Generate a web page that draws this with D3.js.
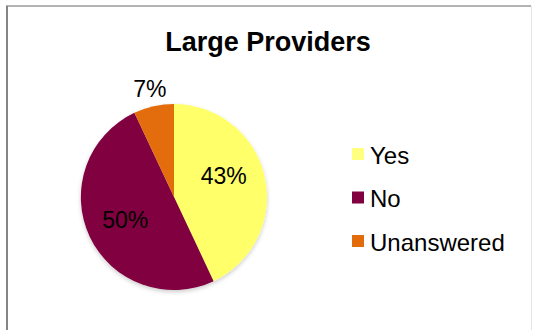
<!DOCTYPE html>
<html>
<head>
<meta charset="utf-8">
<script src="https://cdn.jsdelivr.net/npm/d3@7"></script>
<style>
  html, body { margin: 0; padding: 0; background: #fff; }
  svg { display: block; }
  text { font-family: "Liberation Sans", Arial, sans-serif; fill: #000; }
</style>
</head>
<body>
<svg id="chart" width="533" height="330"></svg>
<script>
// Survey answers for large providers
const categories = ["Yes", "No", "Unanswered"];
const values = [43, 50, 7];
const colors = ["#FFFF6A", "#800040", "#E36C0A"];
const legendColors = ["#FFFF80", "#800040", "#E36C0A"];
const chartTitle = "Large Providers";

const W = 533, H = 330;
const svg = d3.select("#chart");

// frame
svg.append("line").attr("x1", 6).attr("y1", 6).attr("x2", 531).attr("y2", 6)
  .attr("stroke", "#9a9a9a").attr("stroke-width", 1.5);
svg.append("line").attr("x1", 7).attr("y1", 6).attr("x2", 7).attr("y2", H)
  .attr("stroke", "#858585").attr("stroke-width", 2);
svg.append("line").attr("x1", 531.5).attr("y1", 6).attr("x2", 531.5).attr("y2", H)
  .attr("stroke", "#e4e4e4").attr("stroke-width", 1);

// title
svg.append("text")
  .attr("x", 268).attr("y", 51)
  .attr("text-anchor", "middle")
  .style("font-size", "27px").style("font-weight", "bold")
  .text(chartTitle);

// pie
const cx = 174, cy = 197, r = 93;
const defs = svg.append("defs");
const f = defs.append("filter").attr("id", "shadow")
  .attr("x", "-20%").attr("y", "-20%").attr("width", "140%").attr("height", "140%");
f.append("feDropShadow").attr("dx", 0).attr("dy", 2).attr("stdDeviation", 2)
  .attr("flood-color", "#000").attr("flood-opacity", 0.2);

const data = categories.map((c, i) => ({ name: c, value: values[i], color: colors[i] }));
const pie = d3.pie().value(d => d.value).sort(null);
const arcs = pie(data);
const arc = d3.arc().innerRadius(0).outerRadius(r);

const g = svg.append("g").attr("transform", `translate(${cx},${cy})`);
g.append("g").attr("filter", "url(#shadow)")
  .selectAll("path").data(arcs).join("path")
  .attr("d", arc)
  .attr("fill", d => d.data.color);

// value labels: inside for big slices, outside for the small one
const inside = d3.arc().innerRadius(r * 0.58).outerRadius(r * 0.58);
const outside = d3.arc().innerRadius(r * 1.19).outerRadius(r * 1.19);
g.selectAll("text.val").data(arcs).join("text")
  .attr("class", "val")
  .attr("text-anchor", "middle")
  .attr("dominant-baseline", "central")
  .style("font-size", "23px")
  .attr("transform", d => {
    const a = d.data.value < 10 ? outside : inside;
    // the first slice's label sits a little higher up its slice
    const dd = d.index === 0 ? { ...d, endAngle: d.endAngle - 0.35 } : d;
    const p = a.centroid(dd);
    return `translate(${p[0]},${p[1]})`;
  })
  .text(d => d.data.value + "%");

// legend
const lg = svg.append("g").attr("transform", "translate(352,154)");
const item = lg.selectAll("g").data(categories).join("g")
  .attr("transform", (d, i) => `translate(0,${i * 43.5})`);
item.append("rect").attr("x", 0).attr("y", -6).attr("width", 12).attr("height", 12)
  .attr("fill", (d, i) => legendColors[i]);
item.append("text").attr("x", 18).attr("y", 1)
  .attr("dominant-baseline", "central")
  .style("font-size", "24px")
  .text(d => d);
</script>
</body>
</html>
